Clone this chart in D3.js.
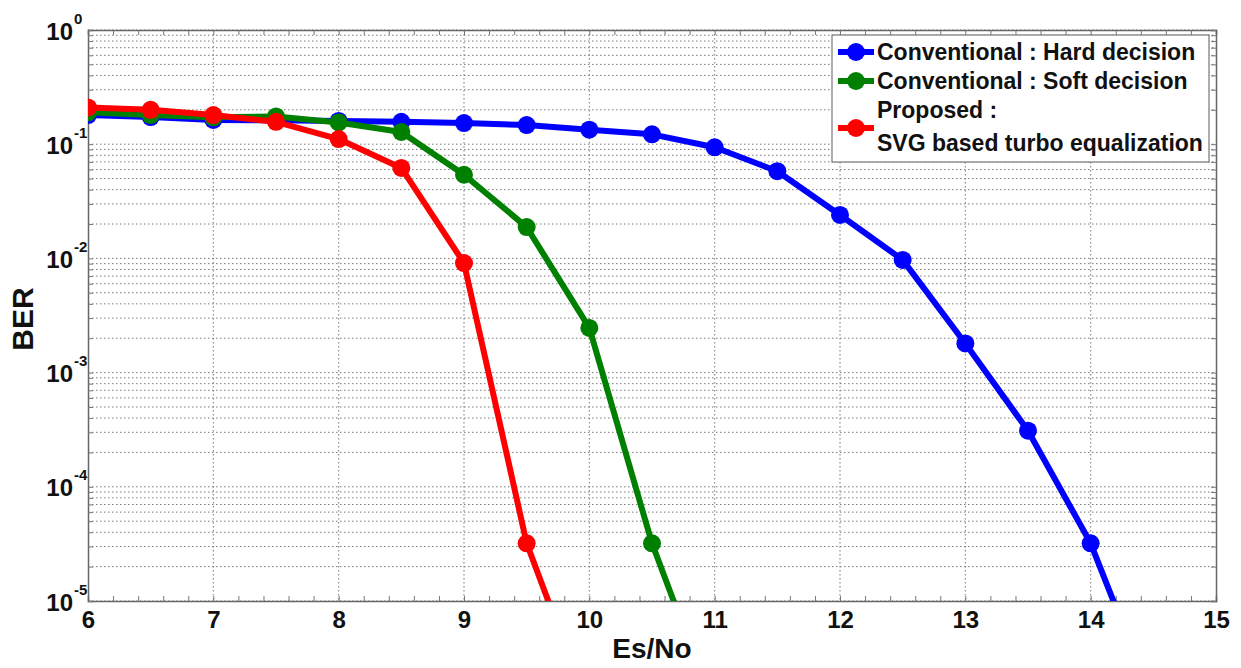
<!DOCTYPE html>
<html><head><meta charset="utf-8">
<script src="https://cdn.jsdelivr.net/npm/d3@7"></script>
<style>
body{margin:0;background:#fff;}
text{font-family:"Liberation Sans",Arial,sans-serif;font-weight:bold;fill:#111;}
</style></head>
<body><svg id="c" width="1241" height="668"></svg>
<script>
const xHard = [6,6.5,7,7.5,8,8.5,9,9.5,10,10.5,11,11.5,12,12.5,13,13.5,14,14.5];
const berHard = [0.18,0.173,0.163,0.162,0.16,0.157,0.153,0.147,0.134,0.122,0.094,0.058,0.024,0.0097,0.0018,0.00031,0.000032,0.0000013];
const xSoft = [6,6.5,7,7.5,8,8.5,9,9.5,10,10.5,11];
const berSoft = [0.19,0.18,0.172,0.175,0.155,0.128,0.054,0.0188,0.00246,0.000032,0.0000011];
const xProp = [6,6.5,7,7.5,8,8.5,9,9.5,10];
const berProp = [0.21,0.2,0.18,0.157,0.111,0.062,0.0091,0.000032,0.0000011];
const seriesNames = ["Conventional : Hard decision","Conventional : Soft decision","Proposed :|SVG based turbo equalization"];
const seriesColors = ["#0000ff","#008000","#ff0000"];
const xTicks = [6,7,8,9,10,11,12,13,14,15];
const yExps = [0,-1,-2,-3,-4,-5];

const svg = d3.select("#c");
const L=88,R=1216,T=30,B=601;
const x = d3.scaleLinear().domain([6,15]).range([L,R]);
const y = d3.scaleLog().domain([1e-5,1]).range([B,T]);

// grid
const grid = svg.append("g");
const minorY=[];
for(let e=-5;e<0;e++){for(let k=1;k<=9;k++){minorY.push(k*Math.pow(10,e));}}
minorY.push(1);
grid.selectAll("line.h").data(minorY).enter().append("line")
  .attr("x1",L).attr("x2",R).attr("y1",d=>y(d)).attr("y2",d=>y(d))
  .attr("stroke","#7a7a7a").attr("stroke-width",1).attr("stroke-dasharray","1.5,2.5");
grid.selectAll("line.v").data(xTicks.slice(1,-1)).enter().append("line")
  .attr("y1",T).attr("y2",B).attr("x1",d=>x(d)).attr("x2",d=>x(d))
  .attr("stroke","#7a7a7a").attr("stroke-width",1).attr("stroke-dasharray","1.5,2.5");

// minor ticks
const minorX = d3.range(6,15.001,0.2).map(v=>+v.toFixed(1));
const xb = svg.append("g").attr("transform",`translate(0,${B})`)
  .call(d3.axisBottom(x).tickValues(minorX).tickSize(-5).tickFormat(""));
const xt = svg.append("g").attr("transform",`translate(0,${T})`)
  .call(d3.axisTop(x).tickValues(minorX).tickSize(-5).tickFormat(""));
const yl = svg.append("g").attr("transform",`translate(${L},0)`)
  .call(d3.axisLeft(y).tickValues(minorY).tickSize(-5).tickFormat(""));
const yr = svg.append("g").attr("transform",`translate(${R},0)`)
  .call(d3.axisRight(y).tickValues(minorY).tickSize(-5).tickFormat(""));
[xb,xt,yl,yr].forEach(g=>{g.select(".domain").attr("stroke","#666").attr("stroke-width",1.5);
  g.selectAll(".tick line").attr("stroke","#777");});

// x labels
const xl = svg.append("g").attr("transform",`translate(0,${B})`)
  .call(d3.axisBottom(x).tickValues(xTicks).tickSize(0).tickPadding(0).tickFormat(d3.format("d")));
xl.select(".domain").remove();
xl.selectAll(".tick text").attr("y",27).attr("dy",0).attr("font-size",24)
  .attr("font-family","Liberation Sans, Arial").attr("font-weight","bold").attr("fill","#111");

// y labels
const ylab = svg.append("g").attr("transform",`translate(${L},0)`)
  .call(d3.axisLeft(y).tickValues(yExps.map(e=>Math.pow(10,e))).tickSize(0).tickFormat(""));
ylab.select(".domain").remove();
ylab.selectAll(".tick").each(function(d){
  const g=d3.select(this); const e=Math.round(Math.log10(d));
  g.append("text").attr("x",-15).attr("y",9).attr("text-anchor","end").attr("font-size",24)
    .attr("font-family","Liberation Sans, Arial").attr("font-weight","bold").attr("fill","#111").text("10");
  g.append("text").attr("x",-14).attr("y",-7).attr("text-anchor","start").attr("font-size",15)
    .attr("font-family","Liberation Sans, Arial").attr("font-weight","bold").attr("fill","#111").text(String(e));
});

// axis titles
svg.append("text").attr("x",652).attr("y",658).attr("text-anchor","middle").attr("font-size",28).text("Es/No");
svg.append("text").attr("transform","translate(33,319) rotate(-90)").attr("text-anchor","middle").attr("font-size",30).text("BER");

// series
svg.append("clipPath").attr("id","clip").append("rect").attr("x",L).attr("y",T).attr("width",R-L).attr("height",B-T);
const series=[[xHard,berHard],[xSoft,berSoft],[xProp,berProp]];
const line=d3.line().x(d=>x(d[0])).y(d=>y(d[1]));
const plot=svg.append("g").attr("clip-path","url(#clip)");
series.forEach((s,i)=>{
  const pts=s[0].map((v,j)=>[v,s[1][j]]);
  plot.append("path").datum(pts).attr("d",line).attr("fill","none")
    .attr("stroke",seriesColors[i]).attr("stroke-width",6).attr("stroke-linejoin","round");
  plot.selectAll(null).data(pts.filter(p=>p[1]>=1e-5)).enter().append("circle")
    .attr("cx",d=>x(d[0])).attr("cy",d=>y(d[1])).attr("r",9).attr("fill",seriesColors[i]);
});

// legend
const lg=svg.append("g");
lg.append("rect").attr("x",832).attr("y",35).attr("width",377).attr("height",127)
  .attr("fill","#fff").attr("stroke","#777").attr("stroke-width",1.2);
const rowsY=[52,81,128];
seriesNames.forEach((n,i)=>{
  lg.append("line").attr("x1",838).attr("x2",874).attr("y1",rowsY[i]).attr("y2",rowsY[i])
    .attr("stroke",seriesColors[i]).attr("stroke-width",6);
  lg.append("circle").attr("cx",856).attr("cy",rowsY[i]).attr("r",9).attr("fill",seriesColors[i]);
  const parts=n.split("|");
  if(parts.length===1){
    lg.append("text").attr("x",877).attr("y",rowsY[i]+8).attr("font-size",23).text(n);
  } else {
    lg.append("text").attr("x",877).attr("y",118).attr("font-size",23).text(parts[0]);
    lg.append("text").attr("x",877).attr("y",151).attr("font-size",23).text(parts[1]);
  }
});
</script></body></html>
